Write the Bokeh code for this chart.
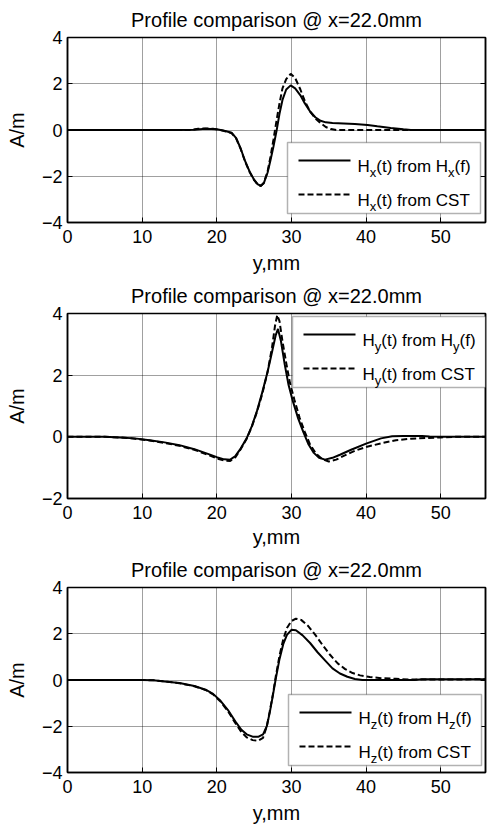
from bokeh.plotting import figure
from bokeh.models import Range1d, FixedTicker, LinearAxis, Label, BoxAnnotation, Arrow
from bokeh.layouts import column
from bokeh.embed import file_html
from bokeh.resources import INLINE

FONT = "Liberation Sans"
TITLE = "Profile comparison @ x=22.0mm"
XLABEL = "y,mm"
YLABEL = "A/m"
XTICKS = [0, 10, 20, 30, 40, 50]

hx_f_x = [0, 5, 10, 15, 17, 18.5, 20, 21, 22, 22.6, 23.2, 23.8, 24.4, 25, 25.5, 25.9, 26.3, 26.8, 27.2,
          27.6, 28.0, 28.4, 28.8, 29.3, 29.9, 30.5, 31.2, 31.8, 32.5, 33.2, 33.9, 34.6, 35.5, 37, 38.5,
          40.2, 41.5, 43.3, 45, 46, 50, 56]
hx_f_y = [0, 0, 0, 0, 0.01, 0.05, 0.03, -0.03, -0.12, -0.35, -0.8, -1.35, -1.8, -2.15, -2.35, -2.41, -2.3,
          -1.85, -1.3, -0.7, -0.05, 0.7, 1.3, 1.75, 1.93, 1.8, 1.5, 1.15, 0.8, 0.55, 0.4, 0.33, 0.3, 0.28,
          0.26, 0.22, 0.16, 0.09, 0.03, 0.0, 0, 0]
hx_c_x = [0, 10, 16.5, 17.5, 18.5, 19.5, 20.5, 21, 22, 22.6, 23.2, 23.8, 24.4, 25, 25.5, 25.9, 26.3, 26.8,
          27.2, 27.6, 28.0, 28.4, 28.8, 29.3, 29.9, 30.5, 31.2, 31.8, 32.5, 33.2, 33.9, 34.6, 35.3, 36,
          40, 45, 56]
hx_c_y = [0, 0, 0, 0.05, 0.07, 0.05, 0.0, -0.04, -0.14, -0.37, -0.82, -1.37, -1.82, -2.17, -2.37, -2.42,
          -2.28, -1.8, -1.15, -0.4, 0.4, 1.15, 1.8, 2.2, 2.43, 2.25, 1.75, 1.25, 0.8, 0.5, 0.3, 0.13, 0.04,
          0.0, 0.0, 0, 0]

hy_f_x = [0, 5, 7, 9, 11, 13, 15, 17, 19, 20, 21, 21.8, 22.5, 23.2, 24, 24.7, 25.4, 26.1, 26.8, 27.4,
          27.9, 28.2, 28.6, 29.1, 29.6, 30.2, 30.9, 31.6, 32.3, 33, 33.7, 34.5, 35.5, 36.5, 38, 40, 42,
          43.5, 45, 47.5, 48.5, 50, 56]
hy_f_y = [0, 0, -0.02, -0.05, -0.11, -0.18, -0.27, -0.4, -0.57, -0.66, -0.73, -0.74, -0.62, -0.38, -0.05,
          0.35, 0.85, 1.45, 2.1, 2.75, 3.3, 3.5, 3.1, 2.35, 1.7, 1.15, 0.6, 0.15, -0.25, -0.52, -0.68,
          -0.74, -0.68, -0.58, -0.42, -0.22, -0.05, 0.02, 0.03, 0.03, 0.01, 0, 0]
hy_c_x = [0, 5, 7, 9, 11, 13, 15, 17, 19, 20, 21, 21.8, 22.5, 23.2, 24, 24.7, 25.4, 26.1, 26.8, 27.4,
          27.8, 28.1, 28.4, 28.8, 29.3, 29.8, 30.4, 31.1, 31.8, 32.5, 33.3, 34.1, 35, 36, 37, 38.5, 40,
          42, 44, 46, 48, 50, 52, 56]
hy_c_y = [0, 0, -0.02, -0.06, -0.12, -0.2, -0.29, -0.42, -0.6, -0.7, -0.77, -0.78, -0.66, -0.4, -0.06,
          0.33, 0.82, 1.4, 2.1, 2.9, 3.6, 3.95, 3.75, 3.1, 2.4, 1.75, 1.2, 0.62, 0.15, -0.25, -0.55, -0.72,
          -0.8, -0.74, -0.62, -0.45, -0.33, -0.21, -0.11, -0.06, -0.04, -0.02, 0, 0]

hz_f_x = [0, 10, 11.5, 13, 15, 17, 18.5, 19.5, 20.5, 21.5, 22.5, 23.3, 24, 24.8, 25.6, 26.2, 26.7, 27.1,
          27.5, 27.9, 28.4, 28.9, 29.4, 30, 30.6, 31.5, 32.5, 33.5, 34.5, 35.5, 36.5, 37.5, 38.5, 39.5,
          42, 46.5, 47.5, 56]
hz_f_y = [0, 0, -0.01, -0.06, -0.13, -0.26, -0.42, -0.6, -0.9, -1.3, -1.8, -2.15, -2.35, -2.45, -2.45,
          -2.35, -2.0, -1.4, -0.7, 0.05, 0.9, 1.55, 1.95, 2.17, 2.15, 1.93, 1.6, 1.2, 0.85, 0.5, 0.28,
          0.14, 0.04, 0.0, 0.0, 0.0, 0.03, 0.03]
hz_c_x = [0, 10, 11.5, 13, 15, 17, 18.5, 19.5, 20.5, 21.5, 22.5, 23.3, 24, 24.8, 25.5, 26.2, 26.7, 27.1,
          27.5, 27.9, 28.4, 28.9, 29.4, 30, 30.6, 31.3, 32.2, 33.2, 34.2, 35.2, 36.2, 37.2, 38.2, 39.2,
          40.5, 42, 44, 46, 48, 56]
hz_c_y = [0, 0, -0.01, -0.06, -0.14, -0.27, -0.43, -0.62, -0.93, -1.35, -1.87, -2.25, -2.48, -2.6, -2.63,
          -2.5, -2.0, -1.35, -0.65, 0.15, 1.05, 1.75, 2.25, 2.55, 2.65, 2.6, 2.35, 1.95, 1.5, 1.08, 0.72,
          0.47, 0.3, 0.2, 0.13, 0.08, 0.05, 0.02, 0.02, 0.03]

COMPONENTS = ["x", "y", "z"]
LEG_MAIN_1 = ["H", "(t) from H", "(f)"]
LEG_MAIN_2 = ["H", "(t) from CST"]


def style_axis(ax, fs="18px"):
    ax.major_tick_in = 5
    ax.major_tick_out = 0
    ax.minor_tick_in = 0
    ax.minor_tick_out = 0
    ax.axis_line_color = "black"
    ax.axis_line_width = 1.5
    ax.major_tick_line_color = "black"
    ax.major_tick_line_width = 1
    ax.major_label_text_font = FONT
    ax.major_label_text_font_size = fs
    ax.major_label_text_color = "black"
    ax.axis_label_text_font = FONT
    ax.axis_label_text_font_size = "20px"
    ax.axis_label_text_font_style = "normal"
    ax.axis_label_text_color = "black"


def add_legend(p, comp, L, B):
    W, H = 193, 71
    p.add_layout(BoxAnnotation(left=L, right=L + W, bottom=B, top=B + H,
                               left_units="screen", right_units="screen",
                               bottom_units="screen", top_units="screen",
                               fill_color="white", fill_alpha=1.0,
                               line_color="black", line_width=1.5))
    rows = [(B + 53, "", LEG_MAIN_1), (B + 19, "6 3", LEG_MAIN_2)]
    for ry, dash, parts in rows:
        p.add_layout(Arrow(end=None, x_start=L + 11, y_start=ry, x_end=L + 63, y_end=ry,
                           start_units="screen", end_units="screen",
                           line_color="black", line_width=2,
                           line_dash=dash if dash else "solid"))
        x0 = L + 70
        main_x = [x0, x0 + 18.8, x0 + 97.1]
        sub_x = [x0 + 12.3, x0 + 90.6]
        for i, t in enumerate(parts):
            p.add_layout(Label(x=main_x[i], y=ry - 6, x_units="screen", y_units="screen",
                               text=t, text_font=FONT, text_font_size="17px",
                               text_color="black", text_baseline="alphabetic"))
        for i in range(len(parts) - 1):
            p.add_layout(Label(x=sub_x[i], y=ry - 12, x_units="screen", y_units="screen",
                               text=comp, text_font=FONT, text_font_size="13px",
                               text_color="black", text_baseline="alphabetic"))


def make_panel(comp, fx, fy, cx, cy, ymin, ymax, yticks, leg, xlab_standoff, bottom):
    p = figure(frame_width=418, frame_height=185, x_range=Range1d(0, 56),
               y_range=Range1d(ymin, ymax), output_backend="svg", toolbar_location=None,
               min_border_left=67, min_border_right=4, min_border_top=0,
               min_border_bottom=bottom, title=TITLE)
    p.title.align = "center"
    p.title.text_font = FONT
    p.title.text_font_size = "20px"
    p.title.text_font_style = "normal"
    p.title.text_color = "black"
    p.title.standoff = 13
    p.background_fill_color = "white"
    p.border_fill_color = "white"
    p.outline_line_color = "black"
    p.outline_line_width = 1.5

    p.xaxis.ticker = FixedTicker(ticks=XTICKS)
    p.yaxis.ticker = FixedTicker(ticks=yticks)
    p.xaxis.axis_label = XLABEL
    p.yaxis.axis_label = YLABEL
    p.xaxis.major_label_standoff = 7
    p.yaxis.major_label_standoff = 5
    p.xaxis.axis_label_standoff = xlab_standoff
    p.yaxis.axis_label_standoff = 11
    style_axis(p.xaxis[0])
    style_axis(p.yaxis[0])

    ax = LinearAxis(ticker=FixedTicker(ticks=yticks))
    style_axis(ax, "0px")
    ax.major_label_standoff = 0
    ax.major_label_text_alpha = 0
    p.add_layout(ax, "right")

    for g in (p.xgrid[0], p.ygrid[0]):
        g.grid_line_color = "black"
        g.grid_line_alpha = 0.75
        g.grid_line_dash = "1 1"
        g.grid_line_width = 1
    p.xgrid[0].ticker = FixedTicker(ticks=XTICKS)
    p.ygrid[0].ticker = FixedTicker(ticks=yticks)

    p.line(fx, fy, line_color="black", line_width=2)
    p.line(cx, cy, line_color="black", line_width=2, line_dash="6 3")
    add_legend(p, comp, *leg)
    return p


p1 = make_panel(COMPONENTS[0], hx_f_x, hx_f_y, hx_c_x, hx_c_y, -4, 4, [-4, -2, 0, 2, 4], (220, 9), 6, 53)
p2 = make_panel(COMPONENTS[1], hy_f_x, hy_f_y, hy_c_x, hy_c_y, -2, 4, [-2, 0, 2, 4], (225, 111), 4, 51)
p3 = make_panel(COMPONENTS[2], hz_f_x, hz_f_y, hz_c_x, hz_c_y, -4, 4, [-4, -2, 0, 2, 4], (221, 7), 6, 55)

layout = column(p1, p2, p3, spacing=0)
open("out.html", "w").write(file_html(layout, INLINE))
